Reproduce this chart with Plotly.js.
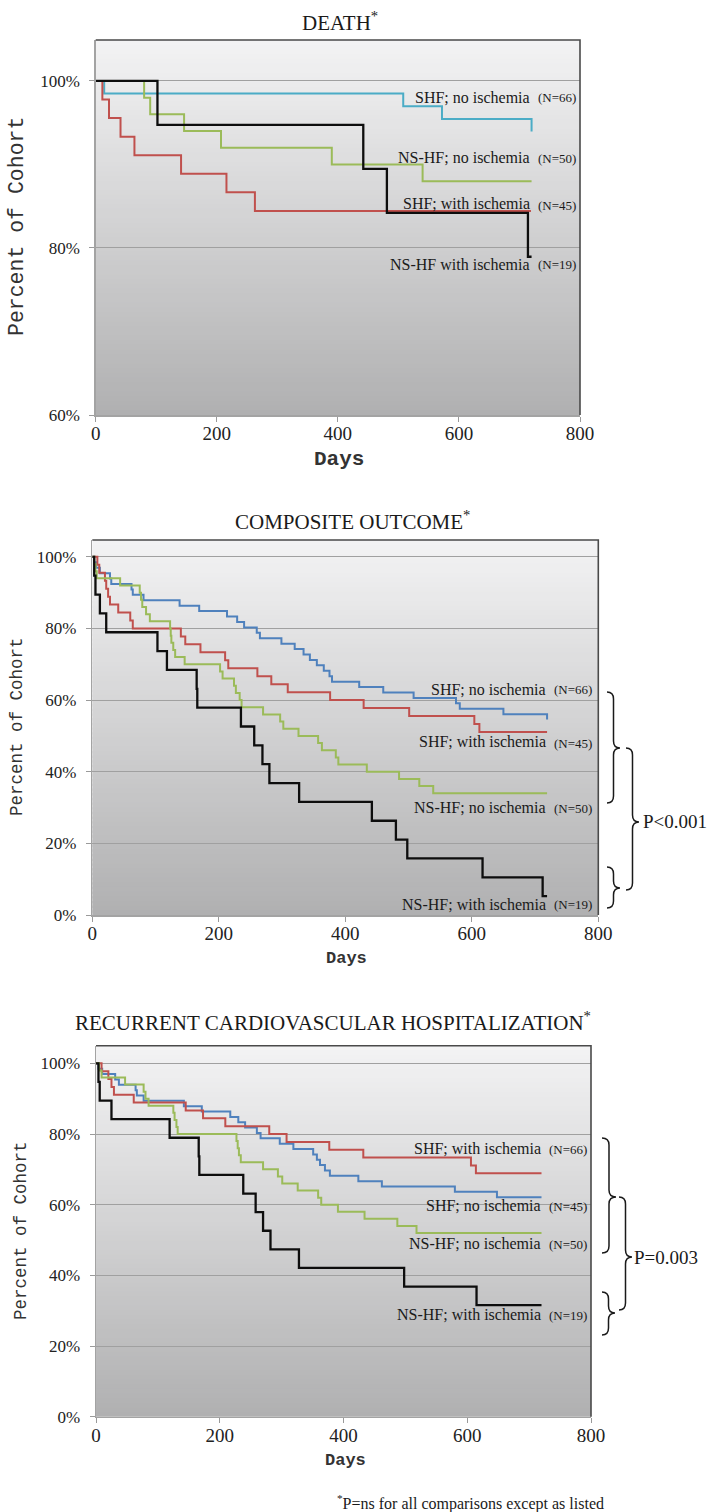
<!DOCTYPE html>
<html><head><meta charset="utf-8">
<script src="https://cdn.plot.ly/plotly-3.0.1.min.js"></script>
<style>html,body{margin:0;padding:0;background:#fff;}#chart{width:711px;height:1512px;}</style>
</head><body><div id="chart"></div>
<script>
// ================= DATA =================
const chartTitles = ['DEATH', 'COMPOSITE OUTCOME', 'RECURRENT CARDIOVASCULAR HOSPITALIZATION'];
const yAxisTitle = 'Percent of Cohort';
const xAxisTitle = 'Days';
const xTickVals = [0, 200, 400, 600, 800];
const deathTickVals = [60, 80, 100];
const pctTickVals = [0, 20, 40, 60, 80, 100];

// --- DEATH ---
const deathShfNoIschDays = [0, 14, 508, 572, 720];
const deathShfNoIschPct  = [100, 98.48, 96.97, 95.45, 93.94];
const deathNsNoIschDays  = [0, 80, 90, 146, 207, 390, 540, 720];
const deathNsNoIschPct   = [100, 98, 96, 94, 92, 90, 88, 88];
const deathShfIschDays   = [0, 11, 22, 41, 64, 141, 216, 263, 719];
const deathShfIschPct    = [100, 97.78, 95.56, 93.33, 91.11, 88.89, 86.67, 84.44, 84.44];
const deathNsIschDays    = [0, 102, 442, 481, 714, 720];
const deathNsIschPct     = [100, 94.74, 89.47, 84.21, 78.95, 78.95];
const deathLabels = ['SHF; no ischemia', 'NS-HF; no ischemia', 'SHF; with ischemia', 'NS-HF with ischemia'];
const deathLabelN = ['(N=66)', '(N=50)', '(N=45)', '(N=19)'];

// --- COMPOSITE OUTCOME ---
const compShfNoIschDays = [0, 3, 6, 12, 28, 30, 62, 64, 81, 138, 169, 213, 229, 240, 260, 265, 299, 320, 334, 344, 355, 366, 375, 379, 422, 460, 508, 575, 581, 650, 719];
const compShfNoIschPct  = [100, 98.48, 96.97, 95.45, 93.94, 92.42, 90.91, 89.39, 87.88, 86.36, 84.85, 83.33, 81.82, 80.30, 78.79, 77.27, 75.76, 74.24, 72.73, 71.21, 69.70, 68.18, 66.67, 65.15, 63.64, 62.12, 60.61, 59.09, 57.58, 56.06, 54.55];
const compShfIschDays   = [0, 8, 11, 20, 22, 25, 28, 41, 60, 64, 140, 147, 171, 210, 215, 261, 283, 309, 376, 429, 501, 604, 612, 719];
const compShfIschPct    = [100, 97.78, 95.56, 93.33, 91.11, 88.89, 86.67, 84.44, 82.22, 80.00, 77.78, 75.56, 73.33, 71.11, 68.89, 66.67, 64.44, 62.22, 60.00, 57.78, 55.56, 53.33, 51.11, 51.11];
const compNsNoIschDays  = [0, 3, 5, 7, 44, 75, 77, 79, 85, 91, 123, 124, 125, 128, 131, 146, 202, 206, 224, 227, 233, 236, 270, 297, 302, 326, 357, 363, 385, 389, 434, 485, 517, 539, 719];
const compNsNoIschPct   = [100, 98, 96, 94, 92, 90, 88, 86, 84, 82, 80, 78, 76, 74, 72, 70, 68, 66, 64, 62, 60, 58, 56, 54, 52, 50, 48, 46, 44, 42, 40, 38, 36, 34, 34];
const compNsIschDays    = [0, 3, 5, 12, 22, 103, 118, 165, 166, 235, 256, 269, 280, 327, 442, 480, 498, 617, 712, 719];
const compNsIschPct     = [100, 94.74, 89.47, 84.21, 78.95, 73.68, 68.42, 63.16, 57.89, 52.63, 47.37, 42.11, 36.84, 31.58, 26.32, 21.05, 15.79, 10.53, 5.26, 5.26];
const compLabels = ['SHF; no ischemia', 'SHF; with ischemia', 'NS-HF; no ischemia', 'NS-HF; with ischemia'];
const compLabelN = ['(N=66)', '(N=45)', '(N=50)', '(N=19)'];

// --- RECURRENT CV HOSPITALIZATION ---
const recRedDays   = [0, 9, 20, 25, 29, 61, 145, 173, 209, 280, 308, 377, 432, 606, 614, 720];
const recRedPct    = [100, 97.78, 95.56, 93.33, 91.11, 88.89, 86.67, 84.44, 82.22, 80.00, 77.78, 75.56, 73.33, 71.11, 68.89, 68.89];
const recBlueDays  = [0, 4, 10, 31, 37, 64, 66, 77, 142, 171, 217, 230, 241, 260, 266, 297, 319, 351, 357, 362, 370, 378, 424, 462, 580, 648, 720];
const recBluePct   = [100, 98.48, 96.97, 95.45, 93.94, 92.42, 90.91, 89.39, 87.88, 86.36, 84.85, 83.33, 81.82, 80.30, 78.79, 77.27, 75.76, 74.24, 72.73, 71.21, 69.70, 68.18, 66.67, 65.15, 63.64, 62.12, 62.12];
const recGreenDays = [0, 5, 9, 47, 77, 80, 85, 125, 127, 130, 132, 227, 229, 231, 234, 270, 294, 301, 326, 359, 364, 391, 434, 487, 518, 720];
const recGreenPct  = [100, 98, 96, 94, 92, 90, 88, 86, 84, 82, 80, 78, 76, 74, 72, 70, 68, 66, 64, 62, 60, 58, 56, 54, 52, 52];
const recBlackDays = [0, 4, 6, 25, 119, 166, 167, 238, 258, 270, 282, 328, 498, 615, 720];
const recBlackPct  = [100, 94.74, 89.47, 84.21, 78.95, 73.68, 68.42, 63.16, 57.89, 52.63, 47.37, 42.11, 36.84, 31.58, 31.58];
const recLabels = ['SHF; with ischemia', 'SHF; no ischemia', 'NS-HF; no ischemia', 'NS-HF; with ischemia'];
const recLabelN = ['(N=66)', '(N=45)', '(N=50)', '(N=19)'];

const pValueTexts = ['P<0.001', 'P=0.003'];
const footnoteText = '<sup>*</sup>P=ns for all comparisons except as listed';

// ================= LAYOUT / STYLE =================
const W = 711, H = 1512;
const PX = px => px / W;
const PY = py => 1 - py / H;
const SERIF = 'Liberation Serif, Times New Roman, serif';
const MONO = 'Liberation Mono, Courier New, monospace';
const C = {blueTop: '#4bacc6', blue: '#4f81bd', red: '#c0504d', green: '#9bbb59', black: '#0d0d0d'};

function stepTrace(x, y, color, sfx, width) {
  return {x: x, y: y, type: 'scatter', mode: 'lines',
    line: {shape: 'hv', color: color, width: width},
    xaxis: 'x' + sfx, yaxis: 'y' + sfx, hoverinfo: 'skip', showlegend: false};
}

const traces = [
  stepTrace(deathShfNoIschDays, deathShfNoIschPct, C.blueTop, '', 2),
  stepTrace(deathNsNoIschDays, deathNsNoIschPct, C.green, '', 2),
  stepTrace(deathShfIschDays, deathShfIschPct, C.red, '', 2),
  stepTrace(deathNsIschDays, deathNsIschPct, C.black, '', 2.3),
  stepTrace(compShfNoIschDays, compShfNoIschPct, C.blue, '2', 2),
  stepTrace(compShfIschDays, compShfIschPct, C.red, '2', 2),
  stepTrace(compNsNoIschDays, compNsNoIschPct, C.green, '2', 2),
  stepTrace(compNsIschDays, compNsIschPct, C.black, '2', 2.3),
  stepTrace(recBlueDays, recBluePct, C.blue, '3', 2),
  stepTrace(recRedDays, recRedPct, C.red, '3', 2),
  stepTrace(recGreenDays, recGreenPct, C.green, '3', 2),
  stepTrace(recBlackDays, recBlackPct, C.black, '3', 2.3)
];

// plot areas in pixels [left, right, top, bottom]
const boxes = [[95.7, 580, 40, 415], [92.3, 598.3, 540, 915], [96, 591, 1045.7, 1416.7]];
const yRanges = [[60, 104.9], [0, 104.7], [0, 105]];
const yTicks = [deathTickVals, pctTickVals, pctTickVals];

function xAxis(i) {
  const b = boxes[i];
  return {domain: [PX(b[0]), PX(b[1])], range: [0, 800], anchor: 'y' + (i ? i + 1 : ''),
    tickmode: 'array', tickvals: xTickVals, ticktext: xTickVals.map(String),
    ticks: 'outside', ticklen: 5, tickcolor: '#9a9a9a', tickwidth: 1,
    showline: true, linecolor: '#a3a3a3', linewidth: 1.5, showgrid: false, zeroline: false,
    tickfont: {family: SERIF, size: 19, color: '#222'}, ticklabelstandoff: -4, fixedrange: true};
}
function yAxis(i) {
  const b = boxes[i];
  return {domain: [PY(b[3]), PY(b[2])], range: yRanges[i], anchor: 'x' + (i ? i + 1 : ''),
    tickmode: 'array', tickvals: yTicks[i], ticktext: yTicks[i].map(v => v + '%'),
    ticks: 'outside', ticklen: 5, tickcolor: '#9a9a9a', tickwidth: 1,
    showline: true, linecolor: '#a3a3a3', linewidth: 1.5,
    showgrid: true, gridcolor: '#a0a0a0', gridwidth: 1, zeroline: false,
    tickfont: {family: SERIF, size: 17, color: '#222'}, ticklabelstandoff: 6, fixedrange: true};
}

// gradient background bands (overlapping, to avoid seams) + dark top/right frame
const shapes = [];
const NB = 80;
function mix(a, b, t) { return Math.round(a + (b - a) * t); }
for (let i = 0; i < 3; i++) {
  const sfx = i ? String(i + 1) : '';
  const r = yRanges[i];
  const span = r[1] - r[0];
  for (let k = 0; k < NB; k++) {
    const t = (k + 0.5) / NB; // 0 top -> 1 bottom
    const c = mix(243, 176, t);
    const y1 = r[1] - span * k / NB;
    const y0 = Math.max(r[0], r[1] - span * (k + 2.5) / NB);
    shapes.push({type: 'rect', xref: 'x' + sfx, yref: 'y' + sfx, x0: 0, x1: 800, y0: y0, y1: y1,
      fillcolor: 'rgb(' + c + ',' + c + ',' + (c + 1) + ')', line: {width: 0}, layer: 'below'});
  }
  const b = boxes[i];
  shapes.push({type: 'path', xref: 'paper', yref: 'paper', layer: 'above',
    path: 'M ' + PX(b[0]) + ' ' + PY(b[2]) + ' L ' + PX(b[1]) + ' ' + PY(b[2]) + ' L ' + PX(b[1]) + ' ' + PY(b[3]),
    line: {color: '#4a4a4a', width: 1.6}});
}

// curly braces "}" (pixel geometry -> paper)
function brace(x0, tip, yt, ym, yb) {
  const xm = (x0 + tip) / 2, r = 7;
  const p = (x, y) => PX(x).toFixed(5) + ' ' + PY(y).toFixed(5);
  return {type: 'path', xref: 'paper', yref: 'paper', layer: 'above', line: {color: '#1a1a1a', width: 1.5},
    path: 'M ' + p(x0, yt) + ' Q ' + p(xm, yt) + ' ' + p(xm, yt + r) +
      ' L ' + p(xm, ym - r) + ' Q ' + p(xm, ym) + ' ' + p(tip, ym) +
      ' Q ' + p(xm, ym) + ' ' + p(xm, ym + r) +
      ' L ' + p(xm, yb - r) + ' Q ' + p(xm, yb) + ' ' + p(x0, yb)};
}
shapes.push(brace(607, 620, 692, 748, 803));
shapes.push(brace(626, 639, 748, 822, 890));
shapes.push(brace(607, 620, 867, 888, 908));
shapes.push(brace(602, 616, 1138, 1197, 1253));
shapes.push(brace(619, 632, 1197, 1257, 1310));
shapes.push(brace(602, 615, 1292, 1313, 1335));

// annotations
const annotations = [];
function ann(text, px, py, xanchor, font, extra) {
  annotations.push(Object.assign({xref: 'paper', yref: 'paper', x: PX(px), y: PY(py), text: text,
    showarrow: false, xanchor: xanchor, yanchor: 'middle', font: font, borderpad: 0}, extra || {}));
}
// titles
const titlePos = [[340, 22], [352, 521], [333, 1021]];
chartTitles.forEach((t, i) => ann(t + '<sup>*</sup>', titlePos[i][0], titlePos[i][1], 'center', {family: SERIF, size: 21, color: '#1a1a1a'}));
// y titles
const yTitlePos = [[17, 227, 21.5], [17, 727, 17.5], [21, 1231, 17.5]];
yTitlePos.forEach(p => ann(yAxisTitle, p[0], p[1], 'center', {family: MONO, size: p[2], color: '#333'}, {textangle: -90}));
// x titles
const xTitlePos = [[339, 460, 21], [346, 958, 17], [345, 1460, 17]];
xTitlePos.forEach(p => ann('<b>' + xAxisTitle + '</b>', p[0], p[1], 'center', {family: MONO, size: p[2], color: '#333'}));

// curve labels
const labelSets = [
  {labels: deathLabels, ns: deathLabelN, right: 531, nLeft: 537, ys: [97, 157, 204, 264]},
  {labels: compLabels, ns: compLabelN, right: 547, nLeft: 553, ys: [689, 742, 807, 904]},
  {labels: recLabels, ns: recLabelN, right: 542, nLeft: 548, ys: [1148, 1205, 1243, 1314]}
];
labelSets.forEach(s => {
  s.labels.forEach((t, k) => {
    ann(t, s.right, s.ys[k], 'right', {family: SERIF, size: 16, color: '#1a1a1a'});
    ann(s.ns[k], s.nLeft, s.ys[k] + 1, 'left', {family: SERIF, size: 13, color: '#1a1a1a'});
  });
});
// p-values
ann(pValueTexts[0], 642, 822, 'left', {family: SERIF, size: 19, color: '#1a1a1a'});
ann(pValueTexts[1], 633, 1257, 'left', {family: SERIF, size: 19, color: '#1a1a1a'});
// footnote
ann(footnoteText, 605, 1502, 'right', {family: SERIF, size: 16, color: '#1a1a1a'});

const layout = {
  width: W, height: H, margin: {l: 0, r: 0, t: 0, b: 0},
  paper_bgcolor: '#ffffff', plot_bgcolor: 'rgba(0,0,0,0)', showlegend: false,
  xaxis: xAxis(0), yaxis: yAxis(0),
  xaxis2: xAxis(1), yaxis2: yAxis(1),
  xaxis3: xAxis(2), yaxis3: yAxis(2),
  shapes: shapes, annotations: annotations
};

Plotly.newPlot('chart', traces, layout, {staticPlot: true, displayModeBar: false});
</script></body></html>
